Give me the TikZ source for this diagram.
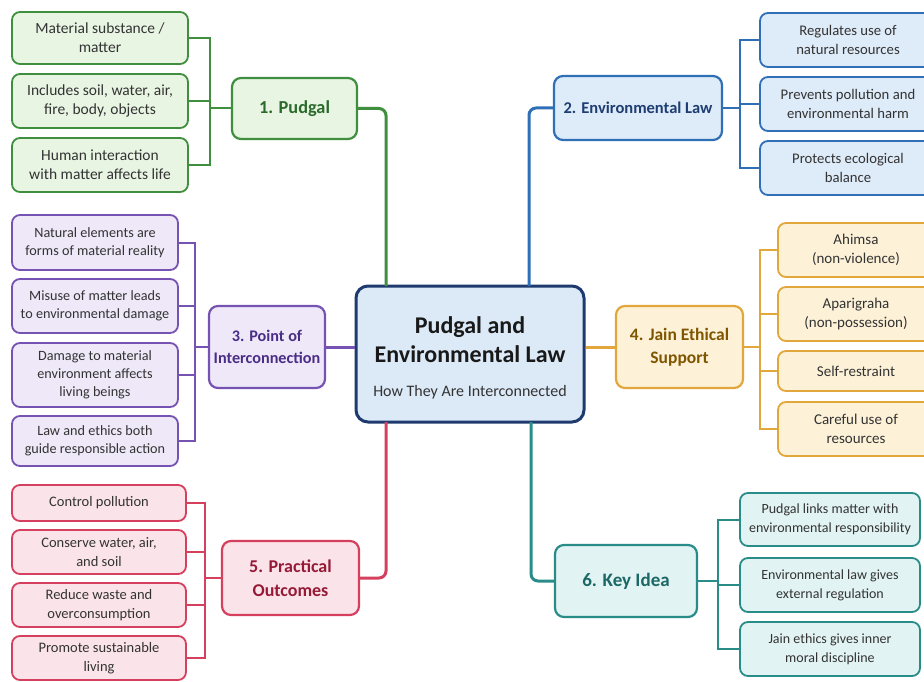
\documentclass[tikz,border=0pt]{standalone}
\usepackage{fontspec}
\setmainfont{Carlito}
\definecolor{gline}{HTML}{3F8F3F}\definecolor{gfill}{HTML}{E8F5E3}\definecolor{gtext}{HTML}{2C6A2C}
\definecolor{bline}{HTML}{2F6FB5}\definecolor{bfill}{HTML}{DEEBF8}\definecolor{btext}{HTML}{1E3D72}
\definecolor{uline}{HTML}{7652B3}\definecolor{ufill}{HTML}{EEE8F8}\definecolor{utext}{HTML}{4A2D86}
\definecolor{oline}{HTML}{E2A73A}\definecolor{ofill}{HTML}{FDF2D8}\definecolor{otext}{HTML}{7F5500}
\definecolor{rline}{HTML}{D4405E}\definecolor{rfill}{HTML}{FBE4E9}\definecolor{rtext}{HTML}{961A38}
\definecolor{tline}{HTML}{2A8C89}\definecolor{tfill}{HTML}{E1F3F2}\definecolor{ttext}{HTML}{1B6866}
\definecolor{cline}{HTML}{1E3A6E}\definecolor{cfill}{HTML}{DCE9F7}
\tikzset{
  leaf/.style 2 args={draw=#1, fill=#2, line width=1.8pt, rounded corners=8pt, align=center,
     text=black!80, inner sep=2pt},
  hub/.style n args={3}{draw=#1, fill=#2, text=#3, line width=2.2pt, rounded corners=9pt, align=center,
     inner sep=2pt},
  gl/.style={leaf={gline}{gfill}, font=\fontsize{15.5}{19}\selectfont},
  bl/.style={leaf={bline}{bfill}, font=\fontsize{14.7}{19}\selectfont},
  ul/.style={leaf={uline}{ufill}, font=\fontsize{14.2}{18}\selectfont},
  ol/.style={leaf={oline}{ofill}, font=\fontsize{15}{19}\selectfont},
  rl/.style={leaf={rline}{rfill}, font=\fontsize{14.5}{19}\selectfont},
  tl/.style={leaf={tline}{tfill}, font=\fontsize{14}{19}\selectfont},
  brk/.style={line width=2pt},
  trunk/.style={line width=3pt, rounded corners=7pt},
}
\begin{document}
\begin{tikzpicture}[x=1pt,y=-1pt]
\useasboundingbox (0,0) rectangle (924,682);
\clip (0,0) rectangle (924,682);
\fill[white] (0,0) rectangle (924,682);
% centre
\node[draw=cline, fill=cfill, line width=3pt, rounded corners=12pt, minimum width=228pt, minimum height=136pt, inner sep=0pt] (ctr) at (470,354) {};
\node[font=\fontsize{24}{29}\selectfont\bfseries, align=center, text=black!90] (ctt) at (470,340) {Pudgal and\\Environmental Law};
\node[font=\fontsize{16}{19}\selectfont, text=black!80] (cts) at (470,392) {How They Are Interconnected};
% hubs
\node[hub={gline}{gfill}{gtext}, font=\fontsize{18.3}{22}\selectfont\bfseries, minimum width=125pt, minimum height=61pt] (h1) at (294.5,108.5) {1. Pudgal};
\node[hub={bline}{bfill}{btext}, font=\fontsize{16.5}{22}\selectfont\bfseries, minimum width=168pt, minimum height=64pt] (h2) at (638,108) {2. Environmental Law};
\node[hub={uline}{ufill}{utext}, font=\fontsize{16.2}{22}\selectfont\bfseries, minimum width=116pt, minimum height=82pt] (h3) at (267,347) {3. Point of\\Interconnection};
\node[hub={oline}{ofill}{otext}, font=\fontsize{17.5}{23}\selectfont\bfseries, minimum width=127pt, minimum height=82pt] (h4) at (679.5,347) {4. Jain Ethical\\Support};
\node[hub={rline}{rfill}{rtext}, font=\fontsize{18}{24}\selectfont\bfseries, minimum width=137pt, minimum height=74pt] (h5) at (290.5,578) {5. Practical\\Outcomes};
\node[hub={tline}{tfill}{ttext}, font=\fontsize{19}{23}\selectfont\bfseries, minimum width=142pt, minimum height=72pt] (h6) at (626,581) {6. Key Idea};
% trunk coordinates
\coordinate (t1) at (386,286); \coordinate (t2) at (529,286);
\coordinate (t5) at (386,422); \coordinate (t6) at (531,422);
\draw[gline, trunk] (h1.east) -| (t1);
\draw[bline, trunk] (h2.west) -| (t2);
\draw[uline, line width=3pt] (h3.east) -- (ctr.west |- h3.east);
\draw[oline, line width=3pt] (h4.west) -- (ctr.east |- h4.west);
\draw[rline, trunk] (h5.east) -| (t5);
\draw[tline, trunk] (h6.west) -| (t6);
% leaves 1
\node[gl, minimum width=176pt, minimum height=52pt] (g1) at (100,38) {Material substance /\\matter};
\node[gl, minimum width=176pt, minimum height=54pt] (g2) at (100,101) {Includes soil, water, air,\\fire, body, objects};
\node[gl, minimum width=176pt, minimum height=54pt] (g3) at (100,165) {Human interaction\\with matter affects life};
\coordinate (gx) at (210,0);
\draw[gline, brk] (g1.east) -| (gx |- g3.east) -- (g3.east);
\draw[gline, brk] (g2.east) -- (gx |- g2.east);
\draw[gline, brk] (gx |- h1.west) -- (h1.west);
% leaves 2
\node[bl, minimum width=176pt, minimum height=54pt] (b1) at (848,40) {Regulates use of\\natural resources};
\node[bl, minimum width=176pt, minimum height=54pt] (b2) at (848,104) {Prevents pollution and\\environmental harm};
\node[bl, minimum width=176pt, minimum height=54pt] (b3) at (848,168) {Protects ecological\\balance};
\coordinate (bx) at (740,0);
\draw[bline, brk] (b1.west) -| (bx |- b3.west) -- (b3.west);
\draw[bline, brk] (b2.west) -- (bx |- b2.west);
\draw[bline, brk] (bx |- h2.east) -- (h2.east);
% leaves 3
\node[ul, minimum width=166pt, minimum height=55pt] (u1) at (95,242.5) {Natural elements are\\forms of material reality};
\node[ul, minimum width=166pt, minimum height=54pt] (u2) at (95,306) {Misuse of matter leads\\to environmental damage};
\node[ul, minimum width=166pt, minimum height=64pt] (u3) at (95,375) {Damage to material\\environment affects\\living beings};
\node[ul, minimum width=166pt, minimum height=50pt] (u4) at (95,441) {Law and ethics both\\guide responsible action};
\coordinate (ux) at (195,0);
\draw[uline, brk] (u1.east) -| (ux |- u4.east) -- (u4.east);
\draw[uline, brk] (u2.east) -- (ux |- u2.east);
\draw[uline, brk] (u3.east) -- (ux |- u3.east);
\draw[uline, brk] (ux |- h3.west) -- (h3.west);
% leaves 4
\node[ol, minimum width=156pt, minimum height=54pt] (o1) at (856,250) {Ahimsa\\(non-violence)};
\node[ol, minimum width=156pt, minimum height=54pt] (o2) at (856,314) {Aparigraha\\(non-possession)};
\node[ol, minimum width=156pt, minimum height=40pt] (o3) at (856,371) {Self-restraint};
\node[ol, minimum width=156pt, minimum height=54pt] (o4) at (856,429) {Careful use of\\resources};
\coordinate (ox) at (760,0);
\draw[oline, brk] (o1.west) -| (ox |- o4.west) -- (o4.west);
\draw[oline, brk] (o2.west) -- (ox |- o2.west);
\draw[oline, brk] (o3.west) -- (ox |- o3.west);
\draw[oline, brk] (ox |- h4.east) -- (h4.east);
% leaves 5
\node[rl, minimum width=174pt, minimum height=36pt] (r1) at (99,503) {Control pollution};
\node[rl, minimum width=174pt, minimum height=44pt] (r2) at (99,552) {Conserve water, air,\\and soil};
\node[rl, minimum width=174pt, minimum height=44pt] (r3) at (99,605) {Reduce waste and\\overconsumption};
\node[rl, minimum width=174pt, minimum height=44pt] (r4) at (99,658) {Promote sustainable\\living};
\coordinate (rx) at (205,0);
\draw[rline, brk] (r1.east) -| (rx |- r4.east) -- (r4.east);
\draw[rline, brk] (r2.east) -- (rx |- r2.east);
\draw[rline, brk] (r3.east) -- (rx |- r3.east);
\draw[rline, brk] (rx |- h5.west) -- (h5.west);
% leaves 6
\node[tl, minimum width=180pt, minimum height=53pt] (k1) at (830,519.5) {Pudgal links matter with\\environmental responsibility};
\node[tl, minimum width=180pt, minimum height=54pt] (k2) at (830,585) {Environmental law gives\\external regulation};
\node[tl, minimum width=180pt, minimum height=54pt] (k3) at (830,649) {Jain ethics gives inner\\moral discipline};
\coordinate (kx) at (718,0);
\draw[tline, brk] (k1.west) -| (kx |- k3.west) -- (k3.west);
\draw[tline, brk] (k2.west) -- (kx |- k2.west);
\draw[tline, brk] (kx |- h6.east) -- (h6.east);
\end{tikzpicture}
\end{document}
